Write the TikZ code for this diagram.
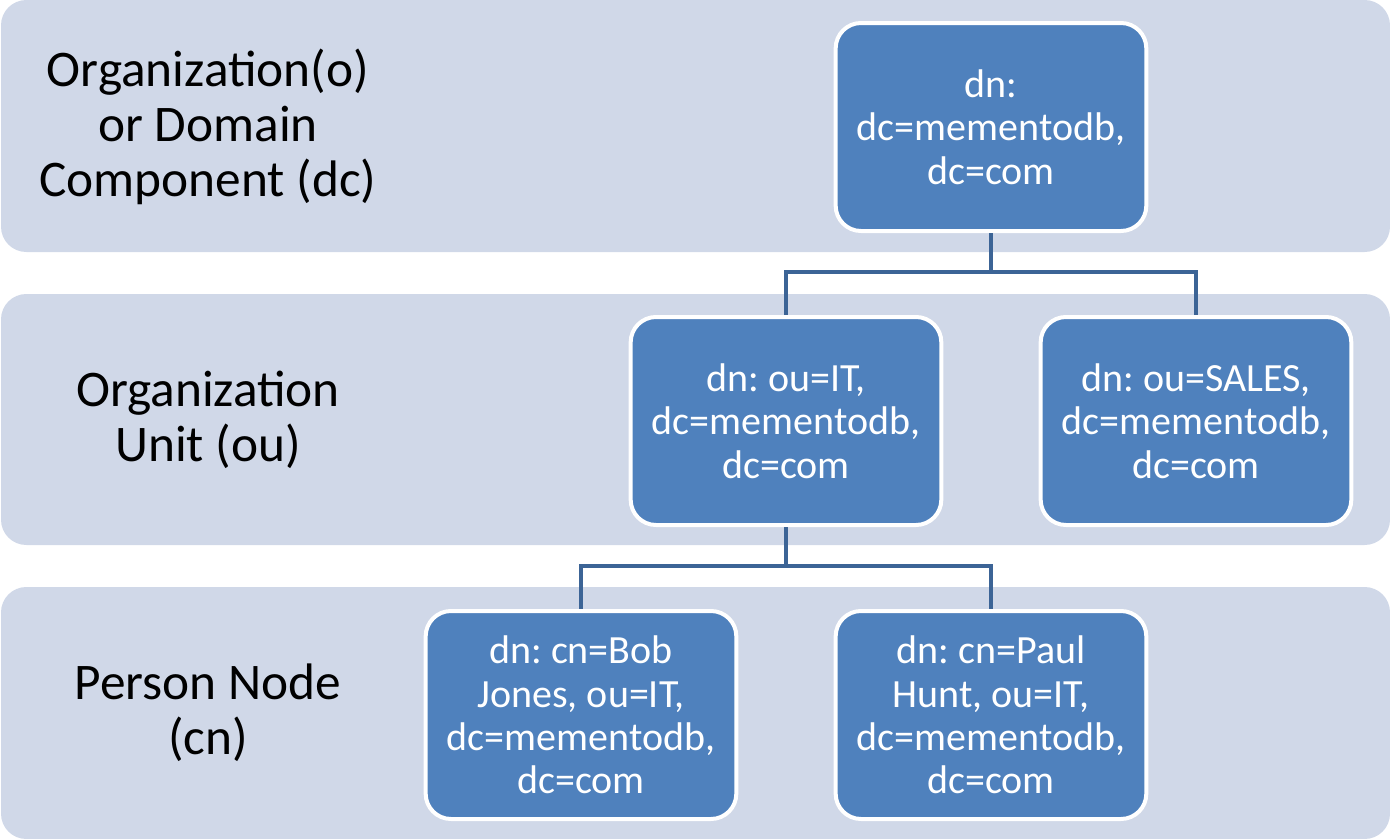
\documentclass[tikz,border=0pt]{standalone}
\usepackage{fontspec}
\setmainfont{Carlito}
\usetikzlibrary{calc}
\frenchspacing

\begin{document}
\begin{tikzpicture}[x=0.75pt,y=-0.75pt]
                \tikzstyle{band} = [fill={rgb,255:red,208;green,216;blue,232}, rounded corners=19pt]
                \tikzstyle{entry} = [draw=white, line width=3pt, fill={rgb,255:red,79;green,129;blue,189}, rounded corners=19pt, minimum width=233pt, minimum height=156pt, text=white, align=center, font=\fontsize{30}{32.5}\selectfont]
                \tikzstyle{level} = [align=center, font=\fontsize{38.5}{41.5}\selectfont]
                \tikzstyle{link} = [line width=2.8pt, color={rgb,255:red,60;green,100;blue,150}]
                \useasboundingbox (0,0) rectangle (1390,839);
                \fill[band] (1,0) rectangle (1390,252);
                \fill[band] (1,294) rectangle (1390,545);
                \fill[band] (1,587) rectangle (1390,839);
                \node[level] (lvlo) at (208,127) {Organization(o)\\or Domain\\Component (dc)};
                \node[level] (lvlou) at (208,420) {Organization\\Unit (ou)};
                \node[level] (lvlcn) at (208,713) {Person Node\\(cn)};
                \node[entry] (root) at (991,127) {dn:\\dc=mementodb,\\dc=com};
                \node[entry] (it) at (786,421) {dn: ou=IT,\\dc=mementodb,\\dc=com};
                \node[entry] (sales) at (1196,421) {dn: ou=SALES,\\dc=mementodb,\\dc=com};
                \node[entry] (bob) at (581,715) {dn: cn=Bob\\Jones, ou=IT,\\dc=mementodb,\\dc=com};
                \node[entry] (paul) at (991,715) {dn: cn=Paul\\Hunt, ou=IT,\\dc=mementodb,\\dc=com};
                \draw[link] (root.south) -- ++(0,39) -| (it.north);
                \draw[link] (root.south) -- ++(0,39) -| (sales.north);
                \draw[link] (it.south) -- ++(0,39) -| (bob.north);
                \draw[link] (it.south) -- ++(0,39) -| (paul.north);
            \end{tikzpicture}
\end{document}
